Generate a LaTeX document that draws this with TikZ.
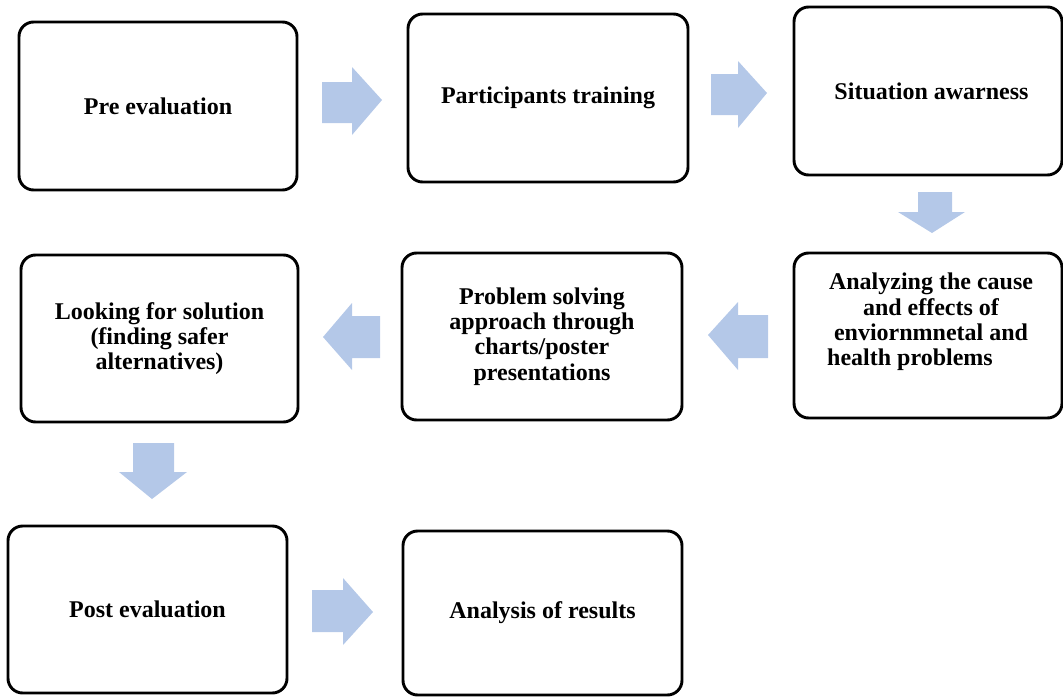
\documentclass[tikz,border=0pt]{standalone}
\usepackage{fontspec}
\setmainfont{Liberation Serif}
\definecolor{arrowblue}{HTML}{B4C8E8}
\tikzset{
  stepbox/.style={draw=black, line width=2.2pt, rounded corners=11pt, fill=white,
    align=center, inner sep=0pt, font=\bfseries\fontsize{18}{19}\selectfont},
  steptext/.style={align=center, inner sep=0pt, font=\bfseries\fontsize{18}{19}\selectfont},
  blockarrow/.style={fill=arrowblue, draw=none}
}
\begin{document}
\begin{tikzpicture}[x=0.75pt, y=-0.75pt]
\useasboundingbox (0,0) rectangle (1063,696);
% boxes
\node[stepbox, minimum width=278*0.75pt, minimum height=168*0.75pt] (b1) at (158,106) {Pre evaluation};
\node[stepbox, minimum width=280*0.75pt, minimum height=168*0.75pt] (b2) at (548,98) {Participants training};
\node[stepbox, minimum width=268*0.75pt, minimum height=168*0.75pt] (b3) at (928,91) {};
\node[steptext] (t3) at (931.5,91) {Situation awarness};
\node[stepbox, minimum width=268*0.75pt, minimum height=165*0.75pt] (b4) at (928,335.5) {};
\node[steptext] (t4) at (931,322) {Analyzing the cause\\ and effects of\\ enviornmnetal and\\ health problems\rule{31.5pt}{0pt}};
\node[stepbox, minimum width=280*0.75pt, minimum height=167*0.75pt] (b5) at (542,336.5) {Problem solving\\ approach through\\ charts/poster\\ presentations};
\node[stepbox, minimum width=277*0.75pt, minimum height=167*0.75pt] (b6) at (159.5,338.5) {Looking for solution\\ (finding safer\\ alternatives)};
\node[stepbox, minimum width=279*0.75pt, minimum height=167*0.75pt] (b7) at (147.5,609.5) {Post evaluation};
\node[stepbox, minimum width=279*0.75pt, minimum height=164*0.75pt] (b8) at (542.5,613) {Analysis of results};
% block arrows
\fill[blockarrow] (322,82) -- (352,82) -- (352,67) -- (382,100) -- (352,135) -- (352,123) -- (322,123) -- cycle;
\fill[blockarrow] (711,74) -- (738,74) -- (738,61) -- (767,93) -- (738,128) -- (738,115) -- (711,115) -- cycle;
\fill[blockarrow] (918,192) -- (952,192) -- (952,212) -- (965,212) -- (932,233) -- (898,212) -- (918,212) -- cycle;
\fill[blockarrow] (768,315) -- (738,315) -- (738,302) -- (708,335) -- (738,370) -- (738,358) -- (768,358) -- cycle;
\fill[blockarrow] (380,316) -- (352,316) -- (352,303) -- (323,337) -- (352,370) -- (352,358) -- (380,358) -- cycle;
\fill[blockarrow] (133,443) -- (174,443) -- (174,472) -- (187,472) -- (152,499) -- (119,472) -- (133,472) -- cycle;
\fill[blockarrow] (312,590) -- (343,590) -- (343,578) -- (373,612) -- (343,645) -- (343,632) -- (312,632) -- cycle;
\end{tikzpicture}
\end{document}
